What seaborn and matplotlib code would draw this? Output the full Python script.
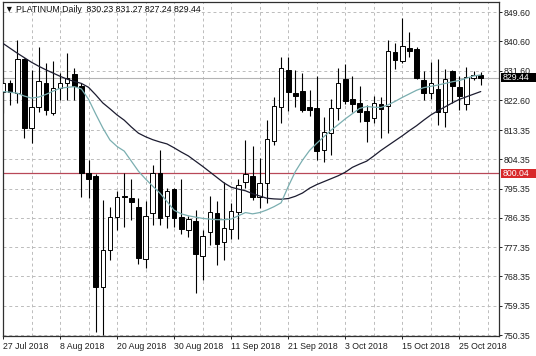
import matplotlib
matplotlib.use("Agg")
import matplotlib.pyplot as plt
import matplotlib.transforms as mtransforms
from matplotlib.patches import Rectangle
import seaborn as sns
import numpy as np
import pandas as pd

# ---------------- data ----------------
opens = [825.2, 827.7, 824.7, 835.1, 814.1, 820.4, 827.7, 818.5, 826.2, 827.9,
         830.6, 826.9, 800.1, 799.3, 765.2, 776.5, 786.5, 793.2, 792.6, 789.8,
         773.6, 787.8, 800.1, 787.0, 795.1, 786.7, 782.6, 785.4, 774.6, 781.9,
         788.0, 778.8, 782.8, 788.1, 797.5, 799.1, 792.9, 797.0, 810.1, 820.5,
         831.8, 824.9, 825.4, 820.5, 820.2, 807.2, 812.6, 820.2, 829.1, 822.8,
         821.7, 819.3, 817.0, 821.4, 820.8, 837.4, 834.7, 838.7, 838.3, 828.7,
         824.9, 826.0, 819.0, 831.5, 826.6, 821.4, 829.3, 830.23]
highs = [829.8, 828.7, 841.0, 835.4, 831.8, 839.0, 833.9, 834.7, 830.8, 837.0,
         832.4, 827.7, 804.2, 799.8, 791.9, 789.8, 794.7, 800.1, 798.2, 792.4,
         791.6, 802.6, 807.2, 795.6, 795.6, 798.2, 787.0, 788.7, 782.6, 793.1,
         791.4, 797.5, 790.8, 798.2, 810.3, 808.5, 804.7, 816.5, 823.6, 835.9,
         835.9, 831.8, 830.8, 825.7, 830.0, 817.5, 822.8, 832.3, 833.6, 830.0,
         826.9, 821.1, 823.8, 823.6, 841.2, 840.0, 847.7, 843.6, 838.8, 831.5,
         834.4, 835.1, 832.0, 831.9, 829.9, 832.6, 831.6, 831.27]
lows = [818.5, 821.1, 821.7, 810.9, 809.5, 819.0, 818.0, 818.0, 822.6, 822.6,
        822.6, 792.9, 792.4, 751.4, 750.4, 773.4, 782.6, 783.6, 785.7, 772.1,
        771.1, 784.2, 784.2, 783.4, 783.6, 781.4, 780.4, 763.2, 767.3, 778.0,
        771.9, 773.4, 779.9, 779.9, 795.5, 791.9, 789.3, 790.8, 808.8, 815.4,
        819.2, 820.5, 819.0, 817.7, 804.2, 803.6, 805.7, 816.5, 821.3, 819.0,
        815.9, 809.7, 815.4, 810.8, 812.4, 832.0, 833.9, 835.9, 829.0, 822.6,
        823.0, 814.9, 814.2, 821.6, 819.5, 819.5, 828.7, 827.24]
closes = [827.9, 825.2, 835.1, 813.9, 820.4, 828.4, 819.5, 826.2, 827.9, 829.5,
          826.9, 800.1, 798.2, 765.2, 776.5, 786.7, 792.9, 792.7, 791.1, 774.0,
          787.0, 800.1, 786.2, 794.6, 786.4, 782.8, 785.9, 775.2, 780.9, 788.3,
          778.2, 783.4, 788.5, 796.5, 799.8, 792.9, 797.0, 810.6, 820.8, 832.3,
          825.0, 823.8, 819.5, 819.5, 807.0, 812.9, 820.2, 827.7, 822.3, 821.4,
          819.0, 816.0, 821.8, 819.8, 837.8, 834.9, 839.1, 837.7, 829.3, 824.7,
          827.7, 819.0, 829.1, 826.9, 823.8, 829.8, 830.3, 829.44]

ma_fast = [825.2, 825.0, 824.7, 823.8, 823.2, 823.5, 824.3, 825.3, 826.2, 826.5,
           826.7, 826.0, 822.8, 818.3, 814.0, 810.3, 808.3, 806.9, 803.8, 800.7,
           798.3, 796.1, 794.0, 791.4, 788.7, 787.6, 787.0, 786.6, 786.2, 786.0,
           785.8, 785.8, 786.0, 787.0, 788.0, 787.6, 788.0, 788.8, 789.8, 791.0,
           796.0, 800.6, 804.1, 807.1, 809.3, 811.3, 813.3, 815.0, 816.8, 818.4,
           820.0, 820.6, 820.4, 820.3, 821.1, 822.2, 823.4, 824.5, 825.6, 826.4,
           826.8, 827.2, 827.7, 828.2, 828.6, 829.3, 830.0, 830.3]
ma_slow = [840.0, 838.5, 837.0, 835.6, 834.2, 833.0, 831.9, 830.9, 829.9, 829.0,
           828.3, 827.7, 826.5, 824.2, 821.7, 819.9, 818.0, 816.4, 814.3, 812.4,
           811.3, 810.4, 809.7, 809.1, 807.9, 806.6, 805.4, 803.8, 802.2, 800.5,
           798.8, 797.1, 795.8, 795.2, 794.7, 793.8, 793.1, 792.4, 792.2, 792.1,
           792.3, 793.0, 794.0, 795.5, 796.6, 797.5, 798.4, 799.3, 800.4, 801.9,
           802.9, 803.8, 805.4, 807.1, 808.6, 810.1, 811.6, 813.2, 814.7, 816.4,
           818.0, 819.3, 820.5, 821.7, 822.8, 823.6, 824.4, 825.2]

date_tick_bars = [0, 8, 16, 24, 32, 40, 48, 56, 64]
date_tick_labels = ["27 Jul 2018", "8 Aug 2018", "20 Aug 2018", "30 Aug 2018",
                    "11 Sep 2018", "21 Sep 2018", "3 Oct 2018", "15 Oct 2018",
                    "25 Oct 2018"]
price_ticks = [849.60, 840.60, 831.60, 822.60, 813.35, 804.35, 795.35,
               786.35, 777.35, 768.35, 759.35, 750.35]
price_tick_labels = ["849.60", "840.60", "831.60", "822.60", "813.35", "804.35",
                     "795.35", "786.35", "777.35", "768.35", "759.35", "750.35"]
last_price = 829.44
level_price = 800.04
title_text = "\u25BC PLATINUM,Daily  830.23 831.27 827.24 829.44"

# ---------------- styling ----------------
sns.set_style("white")
plt.rcParams["font.family"] = ["Liberation Sans", "DejaVu Sans"]
FS = 6.3

df = pd.DataFrame({"bar": np.arange(len(closes)), "open": opens, "high": highs,
                   "low": lows, "close": closes, "fast": ma_fast, "slow": ma_slow})

fig = plt.figure(figsize=(5.36, 3.56), dpi=100)
ax = fig.add_axes([2.5 / 536, 1 - 336 / 356, 496 / 536, 334 / 356])
ax.set_facecolor("white")

ax.set_xlim(-0.07, 69.49)
ax.set_ylim(750.05, 852.73)

# grid
ax.set_xticks(date_tick_bars)
ax.set_xticks(np.arange(0, 72, 4), minor=True)
ax.set_yticks(price_ticks)
ax.grid(True, which="both", axis="x", color="#bcbcbc", lw=0.7, ls=(0, (3, 3)))
ax.grid(True, which="major", axis="y", color="#bcbcbc", lw=0.7, ls=(0, (3, 3)))
ax.set_axisbelow(True)

# horizontal levels
ax.axhline(last_price, color="#b4b4b4", lw=0.8, zorder=1.5)
ax.axhline(level_price, color="#b84858", lw=0.9, zorder=1.5)

# candles
up = df["close"] >= df["open"]
ax.vlines(df["bar"], df["low"], df["high"], color="black", lw=0.8, zorder=2)
body_bottom = np.minimum(df["open"], df["close"])
body_h = np.maximum(np.abs(df["close"] - df["open"]), 0.35)
ax.bar(df["bar"][up], body_h[up], bottom=body_bottom[up], width=0.64,
       color="white", edgecolor="black", lw=0.7, zorder=3)
ax.bar(df["bar"][~up], body_h[~up], bottom=body_bottom[~up], width=0.64,
       color="black", edgecolor="black", lw=0.7, zorder=3)

# moving averages
sns.lineplot(data=df, x="bar", y="slow", color="#1c1c30", lw=0.9, ax=ax, zorder=4)
sns.lineplot(data=df, x="bar", y="fast", color="#7aaeb0", lw=0.9, ax=ax, zorder=4)

ax.set_xlabel("")
ax.set_ylabel("")

# axes / ticks
for s in ax.spines.values():
    s.set_color("#303030")
    s.set_linewidth(0.9)
ax.yaxis.tick_right()
ax.tick_params(axis="y", which="major", right=True, left=False, length=2.2,
               width=0.7, pad=1.5, labelsize=FS, colors="#202020")
ax.tick_params(axis="x", which="major", bottom=True, length=2.2, width=0.7,
               pad=1.8, labelsize=FS, colors="#202020")
ax.tick_params(axis="x", which="minor", length=0)
ax.set_yticklabels(price_tick_labels)
ax.set_xticklabels(date_tick_labels, ha="left")

# price boxes on the right scale
trans = mtransforms.blended_transform_factory(ax.transAxes, ax.transData)
box_h = 2.7
for price, fc, label in [(last_price, "black", "829.44"),
                         (level_price, "#d8282a", "800.04")]:
    ax.add_patch(Rectangle((1.0 + 2 / 496, price - box_h / 2), 36 / 496, box_h,
                           transform=trans, facecolor=fc, edgecolor="none",
                           clip_on=False, zorder=6))
    ax.text(1.0 + 4 / 496, price, label, transform=trans, color="white",
            fontsize=FS, va="center", ha="left", zorder=7, clip_on=False)

# title
fig.text(5 / 536, 1 - 10 / 356, title_text, fontsize=FS, va="center",
         ha="left", color="#101010")

fig.savefig("out.png", dpi=100)
